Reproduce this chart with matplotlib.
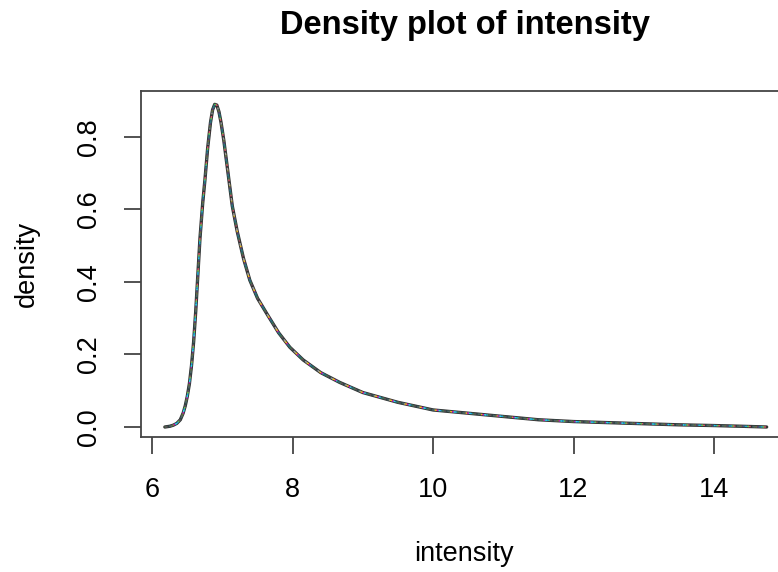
import matplotlib
matplotlib.use("Agg")
import matplotlib.pyplot as plt

plt.rcParams['font.family'] = ['Liberation Sans', 'DejaVu Sans']

# density curve
intensity = [6.18, 6.25, 6.30, 6.35, 6.40, 6.44, 6.47, 6.50, 6.53, 6.56, 6.59, 6.62,
             6.65, 6.68, 6.72, 6.75, 6.79, 6.83, 6.86, 6.89, 6.92, 6.95, 6.98,
             7.02, 7.08, 7.14, 7.21, 7.30, 7.39, 7.50, 7.64, 7.80, 7.96, 8.15,
             8.40, 8.67, 9.00, 9.50, 10.0, 10.5, 11.0, 11.5, 12.0, 12.5, 13.0,
             13.5, 14.0, 14.4, 14.75]
density = [0.0, 0.002, 0.005, 0.01, 0.02, 0.038, 0.058, 0.085, 0.12, 0.17, 0.235, 0.32,
           0.42, 0.52, 0.62, 0.68, 0.77, 0.84, 0.875, 0.89, 0.888, 0.87, 0.84,
           0.79, 0.70, 0.61, 0.54, 0.465, 0.405, 0.355, 0.31, 0.26, 0.22, 0.185,
           0.15, 0.123, 0.095, 0.068, 0.047, 0.038, 0.029, 0.02, 0.015, 0.012, 0.009,
           0.006, 0.004, 0.002, 0.0]

# several samples drawn on top of each other (R palette, dashed)
sample_colors = ['#DF536B', '#61D04F', '#2297E6', '#28E2E5', '#CD0BBC', '#F5C710', '#9E9E9E']

fig = plt.figure(figsize=(7.78, 5.72), dpi=100)
ax = fig.add_axes([0.1812, 0.236, 0.8304, 0.605])

ax.plot(intensity, density, color='#333333', lw=2.4, solid_capstyle='round', solid_joinstyle='round')
for i, c in enumerate(sample_colors):
    ax.plot(intensity, density, color=c, lw=1.0, ls=(i * 1.3, (2, 9)))
ax.plot(intensity, density, color='#2f4f4f', lw=1.6, ls=(0, (4, 3)), alpha=0.7)

ax.set_xlim(5.84, 15.04)
ax.set_ylim(-0.0276, 0.927)
ax.set_xticks([6, 8, 10, 12, 14])
ax.set_yticks([0.0, 0.2, 0.4, 0.6, 0.8])
ax.set_yticklabels(['0.0', '0.2', '0.4', '0.6', '0.8'], rotation=90, va='center')

for s in ax.spines.values():
    s.set_color('#444444')
    s.set_linewidth(1.3)
ax.tick_params(direction='out', length=12, width=1.3, color='#444444', labelsize=19.5)
ax.tick_params(axis='x', pad=17)
ax.tick_params(axis='y', pad=16)

ax.set_xlabel('intensity', fontsize=19.5, labelpad=27)
ax.set_ylabel('density', fontsize=19.5, labelpad=26)
# R centres the main title over the plot region
fig.text(0.597, 0.955, 'Density plot of intensity', fontsize=23.5, fontweight='bold',
         ha='center', va='center')

fig.savefig('out.png', dpi=100)
